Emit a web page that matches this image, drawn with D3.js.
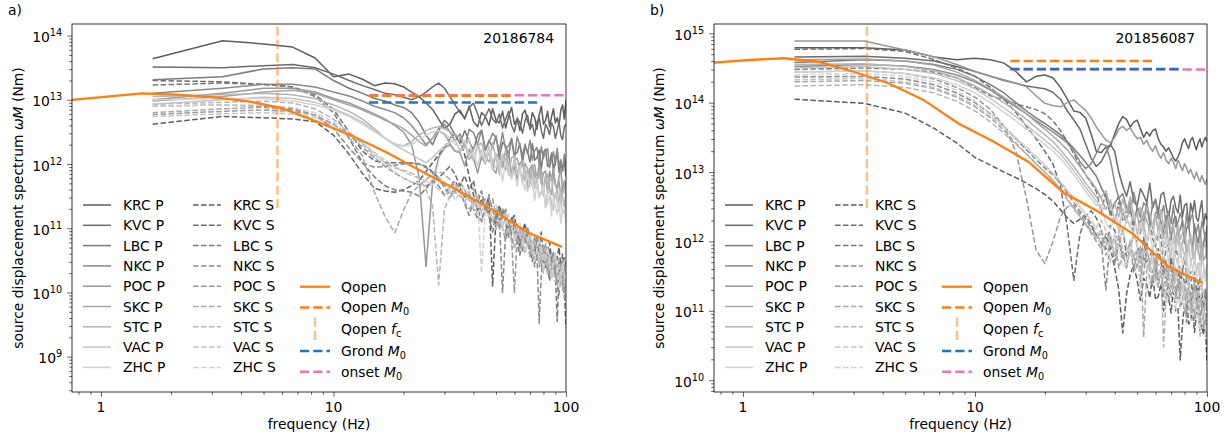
<!DOCTYPE html>
<html>
<head>
<meta charset="utf-8">
<script src="https://cdnjs.cloudflare.com/ajax/libs/d3/7.8.5/d3.min.js"></script>
<style>
  body { margin: 0; background: #fff; }
  svg { font-family: "DejaVu Sans", sans-serif; }
</style>
</head>
<body>
<script>
// spectra are sampled every 5/3 Hz, 60 bins up to 100 Hz; values are log10(M / Nm)
const stations = ["KRC", "KVC", "LBC", "NKC", "POC", "SKC", "STC", "VAC", "ZHC"];
const binCount = 60;
const binWidth = 5 / 3;

// ---- event 20186784 (panel a) ----
const A_KRC_P = [13.64,13.92,13.87,13.82,13.65,13.36,13.40,13.32,13.22,13.26, 13.25,13.20,13.12,13.05,12.95,12.85,12.70,12.55,12.62,12.78, 12.84,12.70,12.90,12.66,12.58,12.80,12.74,12.60,12.86,12.68, 12.64,12.82,12.56,12.74,12.88,12.62,12.70,12.52,12.78,12.84, 12.66,12.58,12.80,12.72,12.54,12.76,12.90,12.62,12.68,12.82, 12.58,12.74,12.86,12.64,12.72,12.60,12.84,12.92,12.70,13.00];
const A_KVC_P = [13.51,13.50,13.53,13.55,13.50,13.40,13.30,13.22,13.16,13.10, 13.08,13.04,13.00,13.05,13.12,13.20,13.26,13.18,13.05,12.92, 12.80,12.72,12.88,12.95,12.78,12.60,12.74,12.86,12.70,12.64, 12.78,12.56,12.70,12.82,12.60,12.50,12.72,12.64,12.48,12.68, 12.76,12.54,12.62,12.44,12.66,12.72,12.52,12.40,12.62,12.56, 12.46,12.64,12.58,12.40,12.52,12.66,12.44,12.38,12.58,12.62];
const A_LBC_P = [13.31,13.36,13.48,13.50,13.48,13.30,13.18,13.10,13.02,12.98, 12.92,12.88,12.80,12.65,12.45,12.30,12.52,12.68,12.60,12.45, 12.32,12.52,12.35,12.22,12.45,12.52,12.21,12.37,12.25,12.44, 12.09,12.34,12.28,12.14,12.40,12.14,12.18,12.32,12.03,12.26, 12.20,12.03,12.32,12.06,12.10,12.22,11.92,12.18,12.23,11.96, 12.00,12.17,11.89,12.08,12.20,11.87,11.99,11.89,12.06,11.80];
const A_NKC_P = [13.10,13.18,13.24,13.24,13.20,13.12,13.06,12.98,12.90,12.85, 12.80,12.72,12.60,12.45,12.30,12.40,12.55,12.62,12.50,12.36, 12.47,12.26,12.54,12.49,12.31,12.53,12.23,12.34,12.48,12.41, 12.20,12.49,12.23,12.29,12.39,12.08,12.42,12.29,12.13,12.31, 12.16,12.37,12.06,12.21,12.26,11.99,12.27,12.09,12.20,12.24, 11.94,12.07,12.19,11.98,12.24,11.97,12.07,11.90,12.15,11.96];
const A_POC_P = [13.00,13.10,13.18,13.18,13.12,13.02,12.95,12.86,12.78,12.70, 12.60,12.50,12.30,11.80,10.40,11.70,12.10,12.25,12.30,12.20, 12.18,11.97,12.23,12.09,11.86,12.11,12.00,12.21,11.93,11.86, 12.11,12.02,11.91,12.19,11.83,11.96,11.76,12.01,12.05,11.84, 11.67,11.93,11.99,11.83,11.75,12.01,11.69,11.86,11.89,11.55, 11.89,11.76,11.93,11.68,11.63,11.80,11.93,11.56,11.74,11.65];
const A_SKC_P = [12.98,13.05,13.12,13.15,13.10,13.00,12.92,12.84,12.76,12.68, 12.62,12.55,12.45,12.35,12.28,12.40,12.52,12.46,12.32,12.20, 12.20,12.33,12.07,12.24,12.34,12.07,12.11,12.24,11.91,12.16, 12.09,11.94,12.22,11.96,11.85,12.06,12.09,11.92,11.76,12.01, 11.93,11.65,11.94,11.99,11.75,11.79,11.92,11.58,11.81,11.84, 11.62,11.53,11.85,11.68,11.58,11.74,11.47,11.54,11.72,11.45];
const A_STC_P = [13.05,13.08,13.10,13.08,13.02,12.92,12.82,12.70,12.55,12.40, 12.30,12.28,12.35,12.45,12.52,12.56,12.58,12.55,12.50,12.45, 12.42,12.31,12.16,12.05,12.28,12.33,12.12,12.03,12.33,12.08, 11.94,12.15,12.08,11.83,12.10,12.13,11.87,11.90,12.04,11.74, 11.92,11.75,12.00,11.68,11.74,11.85,11.75,11.50,11.83,11.61, 11.73,11.79,11.49,11.51,11.61,11.38,11.63,11.50,11.34,11.54];
const A_VAC_P = [12.93,13.00,13.04,13.02,12.96,12.86,12.76,12.65,12.52,12.40, 12.30,12.22,12.15,12.08,12.02,12.10,12.20,12.28,12.34,12.38, 12.20,12.25,12.39,12.06,12.28,12.18,12.02,12.28,12.03,12.14, 11.83,12.13,12.01,11.86,11.78,12.09,11.83,11.91,11.70,11.94, 11.58,11.75,11.81,11.62,11.81,11.50,11.57,11.69,11.32,11.58, 11.60,11.38,11.29,11.55,11.42,11.26,11.51,11.23,11.26,11.38];
const A_ZHC_P = [13.00,13.02,13.02,12.98,12.92,12.84,12.74,12.62,12.50,12.40, 12.32,12.28,12.30,12.38,12.45,12.50,12.52,12.48,12.40,12.30, 12.29,12.37,12.11,12.19,11.97,12.22,12.02,12.24,11.90,11.97, 12.06,11.73,12.05,11.94,11.76,11.90,11.65,11.97,11.71,11.60, 11.85,11.64,11.71,11.43,11.70,11.48,11.55,11.66,11.33,11.39, 11.51,11.19,11.48,11.34,11.21,11.42,11.08,11.27,11.30,11.08];

const A_KRC_S = [12.62,12.74,12.72,12.70,12.66,12.45,12.15,11.85,11.62,11.58, 11.56,11.60,11.66,11.74,11.88,12.02,12.14,12.26,12.40,12.46, 12.40,12.14,11.80,11.52,11.28,11.46,11.30,11.52,10.10,11.18, 11.02,11.30,11.10,10.86,11.14,11.20,10.92,10.70,10.96,11.08, 10.80,10.92,10.64,10.52,10.86,10.70,10.94,10.60,10.38,10.66, 10.78,10.52,10.60,10.30,10.56,10.70,10.40,10.20,10.54,10.40];
const A_KVC_S = [13.30,13.28,13.24,13.20,13.08,12.85,12.50,12.20,12.05,12.02, 12.02,12.02,12.01,12.00,11.96,11.88,11.78,11.88,11.96,11.84, 11.66,11.82,11.60,11.74,11.40,11.58,11.26,11.46,11.30,11.10, 11.36,11.16,11.28,10.96,11.18,10.90,11.06,10.76,10.98,11.04, 10.72,10.94,10.66,10.86,10.54,10.80,10.62,10.44,10.74,10.52, 10.68,10.36,10.58,10.44,10.20,10.52,10.34,10.60,10.26,10.42];
const A_LBC_S = [13.23,13.26,13.24,13.20,13.05,12.80,12.40,12.02,11.80,11.66, 11.60,11.58,11.56,11.50,11.62,11.74,11.66,11.52,11.64,11.74, 11.60,11.38,11.20,11.44,11.32,11.10,11.36,11.18,10.94,11.20, 11.28,11.00,10.82,11.06,10.92,11.12,10.76,10.58,10.90,10.80, 10.98,10.66,10.48,10.78,10.56,10.84,10.40,10.62,10.70,10.36, 10.18,10.50,10.62,10.28,9.55,10.30,10.48,10.14,10.02,9.45];
const A_NKC_S = [12.90,12.92,12.90,12.86,12.76,12.55,12.25,12.02,11.95,11.96, 11.98,12.00,12.02,12.00,11.94,11.86,11.76,11.64,11.48,11.58, 11.64,11.48,11.56,11.30,11.14,11.40,11.46,11.22,11.08,11.32, 11.16,10.00,10.96,11.12,10.86,10.70,10.94,11.00,10.62,10.78, 10.88,10.54,10.70,10.40,10.64,9.52,10.30,10.58,10.66,10.34, 10.48,10.22,10.40,10.54,10.10,9.96,10.32,10.44,10.06,10.16];
const A_POC_S = [12.77,12.82,12.84,12.82,12.76,12.62,12.45,12.26,12.10,11.96, 11.86,11.78,11.72,11.68,11.66,11.72,11.80,11.68,11.52,11.62, 11.72,11.60,11.44,11.30,11.50,11.58,11.24,11.40,11.46,11.16, 11.00,11.20,11.30,11.02,10.84,10.00,10.88,11.00,10.72,10.84, 11.02,10.80,10.58,10.70,10.88,10.66,10.42,10.54,10.76,10.50, 10.26,10.44,10.58,10.36,10.12,10.30,10.46,10.22,9.92,10.20];
const A_SKC_S = [12.80,12.86,12.88,12.84,12.76,12.62,12.42,12.12,11.56,11.18, 10.93,11.28,11.55,11.66,11.76,11.84,11.88,11.84,11.76,11.66, 11.52,11.40,11.56,11.62,11.44,11.26,11.38,11.50,11.28,11.04, 11.18,11.30,11.08,10.88,11.02,11.16,10.94,10.68,10.84,11.00, 10.82,10.56,10.72,10.88,10.68,10.40,10.58,10.74,10.50,10.28, 10.46,10.62,10.40,10.16,10.36,10.52,10.30,10.04,10.26,10.42];
const A_STC_S = [12.93,12.96,12.98,12.95,12.86,12.70,12.50,12.30,12.14,12.02, 11.94,11.90,11.86,11.78,11.60,11.35,10.12,11.30,11.50,11.56, 11.50,11.42,11.30,11.40,11.20,11.08,11.26,11.34,11.12,10.98, 11.10,11.02,10.86,11.00,10.78,10.70,10.92,10.98,10.74,10.60, 10.76,10.84,10.58,10.46,10.66,10.72,10.50,10.30,10.56,10.64, 10.40,10.24,10.46,10.52,10.28,10.06,10.32,10.40,10.16,10.04];
const A_VAC_S = [12.74,12.78,12.80,12.78,12.72,12.60,12.46,12.32,12.18,12.06, 11.96,11.88,11.82,11.78,11.74,11.68,11.60,11.50,11.60,11.68, 11.56,11.40,11.58,11.34,11.50,11.22,11.44,11.28,11.12,11.36, 11.18,11.02,11.26,10.96,11.12,10.84,11.06,10.90,10.70,10.98, 10.78,10.92,10.60,10.80,10.66,10.46,10.74,10.52,10.68,10.40, 10.58,10.30,10.50,10.62,10.28,10.44,10.18,10.40,10.52,10.30];
const A_ZHC_S = [12.90,12.92,12.92,12.88,12.80,12.66,12.50,12.34,12.16,12.00, 11.88,11.78,11.72,11.70,11.72,11.76,11.80,11.72,11.58,11.44, 11.54,11.64,11.48,11.30,11.42,10.30,11.28,11.16,11.30,11.38, 11.20,10.98,11.10,11.22,11.04,10.80,10.94,11.08,10.88,10.64, 10.80,10.96,10.76,10.50,10.68,10.84,10.64,10.36,10.54,10.70, 10.50,10.22,10.42,10.58,10.38,10.08,10.28,10.46,10.26,9.96];

// Qopen fit (half-octave bands), M0, corner frequency and other M0 estimates
const A_QOPEN_F = [0.75, 1.06, 1.5, 2.12, 3, 4.24, 6, 8.49, 12, 16.97, 24, 33.9, 48, 67.9, 96];
const A_QOPEN = [13.00, 13.05, 13.10, 13.08, 13.04, 12.98, 12.87, 12.66, 12.44, 12.18, 11.885, 11.60, 11.29, 10.94, 10.71];
const A_FC = 5.74;
const A_M0 = { qopen: 13.062, grond: 12.958, onset: 13.072 };
const A_M0_F = { qopen: [14.2, 58], grond: [14.2, 76.5], onset: [14.2, 101] };

// ---- event 201856087 (panel b) ----
const B_KRC_P = [14.79,14.79,14.76,14.66,14.62,14.64,14.62,14.57,14.45,14.30, 14.38,14.40,14.36,14.22,14.05,13.88,13.86,13.78,13.55,13.30, 13.28,13.36,13.38,13.55,13.70,13.80,13.76,13.65,13.72,13.75, 13.62,13.50,13.58,13.52,13.60,13.62,13.48,13.40,13.36,13.30, 13.35,13.28,13.20,13.16,13.22,13.30,13.42,13.48,13.40,13.34, 13.46,13.50,13.40,13.32,13.42,13.48,13.36,13.44,13.50,13.44];
const B_KVC_P = [14.66,14.67,14.64,14.60,14.52,14.45,14.38,14.32,14.28,14.24, 14.22,14.20,14.15,14.05,13.88,13.75,13.62,13.40,13.20,13.08, 13.15,13.28,13.40,13.30,13.00,12.80,12.65,12.86,12.58,12.51, 12.76,12.67,12.56,12.84,12.48,12.61,12.41,12.67,12.71,12.50, 12.33,12.59,12.65,12.49,12.41,12.67,12.35,12.52,12.55,12.21, 12.55,12.42,12.59,12.34,12.29,12.46,12.59,12.22,12.40,12.31];
const B_LBC_P = [14.58,14.62,14.60,14.55,14.48,14.38,14.26,14.14,14.00,13.88, 13.78,13.70,13.62,13.54,13.44,13.34,13.24,13.14,13.04,12.94, 12.78,12.64,12.38,12.55,12.65,12.39,12.43,12.57,12.23,12.49, 12.42,12.28,12.56,12.30,12.19,12.41,12.44,12.28,12.11,12.37, 12.29,12.02,12.31,12.36,12.12,12.17,12.30,11.97,12.19,12.23, 12.01,11.93,12.25,12.08,11.98,12.15,11.88,11.96,12.13,11.87];
const B_NKC_P = [14.52,14.55,14.53,14.48,14.40,14.30,14.18,14.05,13.94,13.84, 13.74,13.66,13.58,13.50,13.42,13.30,13.15,13.05,13.12,13.27, 13.41,13.38,13.17,12.85,12.62,12.69,12.49,12.40,12.71,12.48, 12.35,12.56,12.50,12.26,12.55,12.59,12.33,12.37,12.52,12.23, 12.43,12.26,12.52,12.21,12.28,12.41,12.31,12.07,12.41,12.20, 12.33,12.40,12.11,12.14,12.25,12.03,12.29,12.17,12.02,12.23];
const B_POC_P = [14.89,14.89,14.76,14.66,14.55,14.45,14.38,14.33,14.28,14.23, 14.10,13.99,13.96,13.94,14.00,14.04,13.96,13.89,13.78,13.65, 13.55,13.46,13.42,13.50,13.62,13.66,13.60,13.64,13.55,13.48, 13.50,13.40,13.46,13.36,13.30,13.38,13.26,13.20,13.28,13.17, 13.12,13.20,13.14,13.05,13.17,13.10,13.02,13.12,13.06,12.98, 13.04,12.96,12.90,13.00,12.92,12.86,12.95,12.88,12.82,12.90];
const B_SKC_P = [14.62,14.63,14.60,14.54,14.44,14.32,14.20,14.08,13.96,13.84, 13.72,13.62,13.52,13.42,13.32,13.20,13.08,12.96,12.86,12.76, 12.62,12.46,12.60,12.28,12.51,12.41,12.27,12.54,12.30,12.41, 12.11,12.42,12.30,12.16,12.09,12.40,12.16,12.25,12.05,12.29, 11.94,12.12,12.18,12.00,12.20,11.89,11.98,12.11,11.75,12.01, 12.04,11.83,11.74,12.01,11.89,11.73,12.00,11.73,11.77,11.89];
const B_STC_P = [14.55,14.56,14.52,14.46,14.36,14.24,14.12,14.00,13.88,13.76, 13.64,13.54,13.44,13.32,13.20,13.08,12.96,12.84,12.74,12.64, 12.64,12.73,12.48,12.56,12.35,12.61,12.42,12.65,12.31,12.39, 12.49,12.17,12.50,12.39,12.22,12.37,12.13,12.46,12.20,12.10, 12.36,12.16,12.24,11.96,12.24,12.03,12.11,12.23,11.90,11.97, 12.10,11.79,12.09,11.95,11.83,12.05,11.72,11.92,11.95,11.74];
const B_VAC_P = [14.50,14.52,14.48,14.42,14.32,14.20,14.06,13.92,13.80,13.68, 13.56,13.46,13.36,13.26,13.14,13.02,12.90,12.78,12.68,12.58, 12.46,12.49,12.51,12.34,12.16,12.48,12.33,12.21,12.43,12.12, 12.27,12.29,12.00,12.18,12.26,12.01,12.02,12.24,11.90,12.08, 12.00,11.78,12.06,11.87,12.05,11.77,11.93,11.80,11.65,11.98, 11.69,11.78,11.81,11.56,11.69,11.47,11.76,11.66,11.49,11.67];
const B_ZHC_P = [14.44,14.46,14.42,14.36,14.26,14.14,14.00,13.86,13.74,13.62, 13.50,13.40,13.30,13.20,13.08,12.96,12.84,12.72,12.62,12.52, 12.53,12.26,12.17,12.37,12.29,12.08,12.33,12.25,12.07,11.95, 12.27,12.11,11.99,12.16,11.89,12.05,12.15,11.84,11.92,12.00, 11.69,12.00,11.89,11.76,11.65,11.97,11.66,11.75,11.83,11.51, 11.73,11.60,11.75,11.48,11.54,11.71,11.38,11.58,11.42,11.55];

const B_KRC_S = [14.05,13.99,13.85,13.63,13.42,13.21,13.10,13.00,12.92,12.84, 12.76,12.68,12.58,12.46,12.34,12.26,12.32,12.38,12.24,12.10, 11.96,12.08,11.90,11.62,11.30,10.68,11.24,11.52,11.66,11.44, 11.15,11.47,11.38,11.19,11.51,11.16,11.21,11.39,11.00,11.28, 11.20,10.97,11.33,11.00,11.03,10.29,10.79,11.11,11.17,10.81, 10.85,11.07,10.69,10.93,11.07,10.64,10.79,10.65,10.86,10.24];
const B_KVC_S = [14.77,14.78,14.74,14.62,14.50,14.38,14.22,14.05,13.86,13.66, 13.48,13.30,13.12,12.80,12.20,11.44,12.10,12.36,12.44,12.34, 12.18,11.89,12.23,12.16,11.92,12.19,11.78,11.91,12.09,11.98, 11.70,12.06,11.71,11.78,11.89,11.47,11.90,11.72,11.51,11.72, 11.51,11.77,11.35,11.55,11.60,11.23,11.58,11.32,11.46,11.51, 11.10,11.25,11.39,11.11,11.43,11.08,11.19,10.95,11.27,11.01];
const B_LBC_S = [14.48,14.50,14.48,14.44,14.36,14.22,14.10,14.04,13.98,13.94, 13.90,13.84,13.74,13.60,13.44,13.26,13.10,12.96,12.84,12.72, 12.42,12.71,12.43,12.27,12.57,12.29,12.36,12.53,12.05,12.11, 12.33,12.23,11.89,12.26,12.04,11.92,12.17,12.06,11.61,11.92, 11.96,11.57,11.73,11.89,11.79,11.45,11.53,11.83,11.40,11.54, 11.56,11.17,11.56,11.32,11.21,11.50,11.30,11.04,11.31,11.08];
const B_NKC_S = [14.37,14.38,14.34,14.26,14.14,14.00,13.84,13.66,13.48,13.32, 13.18,13.06,12.96,12.84,12.70,12.56,12.44,12.32,12.20,12.10, 12.00,11.30,12.08,11.66,11.96,11.82,11.62,11.97,11.65,11.79, 11.40,11.80,11.64,11.45,11.36,11.76,11.43,11.54,11.28,11.59, 11.13,11.36,11.43,11.19,11.45,11.04,11.14,11.31,10.83,11.17, 11.20,10.93,10.80,11.15,10.99,10.78,11.11,10.76,10.81,10.96];
const B_POC_S = [14.44,14.46,14.42,14.34,14.22,14.08,13.90,13.66,13.30,12.62, 11.88,11.68,12.00,12.35,12.50,12.52,12.40,12.26,12.12,12.00, 11.90,12.11,12.03,11.71,12.09,11.75,11.85,11.98,11.54,11.89, 11.66,11.52,11.90,11.69,11.53,11.76,11.34,11.64,11.49,11.70, 11.30,11.38,11.67,11.18,11.44,11.20,11.37,11.45,10.98,11.34, 11.15,10.99,11.39,11.03,11.22,10.84,11.06,10.90,11.18,11.00];
const B_SKC_S = [14.30,14.32,14.28,14.20,14.08,13.94,13.78,13.60,13.42,13.26, 13.12,13.00,12.88,12.76,12.62,12.48,12.36,12.26,12.16,12.06, 12.11,11.80,11.97,12.05,11.61,11.84,11.61,11.88,11.78,11.61, 11.93,10.62,11.57,11.69,11.42,11.73,11.43,11.63,11.20,11.43, 11.48,11.18,11.56,11.23,11.15,11.42,11.26,10.97,11.29,11.21, 10.95,11.29,10.95,11.06,11.18,10.71,10.89,11.05,10.97,10.66];
const B_STC_S = [14.24,14.26,14.22,14.14,14.02,13.88,13.72,13.56,13.40,13.26, 13.12,13.00,12.88,12.74,12.60,12.46,12.36,12.24,12.14,12.04, 12.18,11.94,12.09,11.79,12.15,11.87,11.74,12.03,11.78,11.89, 11.55,11.90,11.74,11.57,11.91,11.43,11.52,11.64,10.48,11.26, 11.61,11.43,11.27,11.63,11.43,11.17,11.46,11.19,11.28,11.44, 10.96,11.05,11.23,11.29,10.89,11.11,11.16,10.84,10.90,11.19];
const B_VAC_S = [14.33,14.35,14.30,14.22,14.10,13.96,13.80,13.64,13.48,13.34, 13.22,13.10,12.98,12.86,12.74,12.62,12.50,12.40,12.30,12.20, 12.31,12.16,11.97,11.84,12.14,12.20,11.93,11.81,12.21,11.89, 11.72,11.99,11.90,11.57,11.94,11.98,11.65,11.68,11.87,11.47, 11.73,11.50,11.83,11.41,11.50,11.65,11.53,11.20,11.63,11.34, 11.50,11.59,11.21,11.23,11.37,11.06,11.41,11.23,11.03,11.29];
const B_ZHC_S = [14.40,14.42,14.38,14.30,14.18,14.02,13.84,13.66,13.50,13.36, 13.22,13.10,12.98,12.86,12.74,12.62,12.50,12.38,12.28,12.18, 11.88,11.96,11.68,12.12,11.91,11.64,11.67,11.95,11.68,11.81, 11.32,11.72,11.64,11.38,11.75,11.37,11.43,11.60,11.48,11.09, 11.27,11.50,11.41,11.03,11.24,11.03,11.46,11.05,11.15,11.22, 10.85,10.90,11.22,10.91,11.01,10.64,10.90,11.04,10.65,10.88];

const B_QOPEN_F = A_QOPEN_F;
const B_QOPEN = [14.576, 14.615, 14.64, 14.59, 14.446, 14.28, 14.04, 13.70, 13.44, 13.15, 12.71, 12.43, 12.11, 11.64, 11.40];
const B_FC = 3.42;
const B_M0 = { qopen: 14.60, grond: 14.485, onset: 14.48 };
const B_M0_F = { qopen: [14.2, 58], grond: [14.2, 78], onset: [14.2, 101] };

// ---------------------------------------------------------------
const W = 1231, H = 441;
const FS = 13.9;
const orange = "#ff7f0e", blue = "#1f77b4", pink = "#e377c2";
const grays = stations.map((s, i) => d3.interpolateRgb("#5e5e5e", "#d2d2d2")(i / 8));
const freqs = d3.range(1, binCount + 1).map((k) => k * binWidth);

const panels = [
  {
    id: "a", label: "a)", labelX: 8, event: "20186784",
    left: 72, right: 566, top: 24, bottom: 392,
    yDomain: [10 ** 8.45, 10 ** 14.18], yMajors: [1e9, 1e10, 1e11, 1e12, 1e13, 1e14], yLabelX: 23,
    spectra: [[A_KRC_P, A_KRC_S], [A_KVC_P, A_KVC_S], [A_LBC_P, A_LBC_S], [A_NKC_P, A_NKC_S], [A_POC_P, A_POC_S],
              [A_SKC_P, A_SKC_S], [A_STC_P, A_STC_S], [A_VAC_P, A_VAC_S], [A_ZHC_P, A_ZHC_S]],
    qf: A_QOPEN_F, qv: A_QOPEN, fc: A_FC, m0: A_M0, m0f: A_M0_F,
  },
  {
    id: "b", label: "b)", labelX: 650, event: "201856087",
    left: 714, right: 1207, top: 24, bottom: 392,
    yDomain: [10 ** 9.83, 10 ** 15.134], yMajors: [1e10, 1e11, 1e12, 1e13, 1e14, 1e15], yLabelX: 664,
    spectra: [[B_KRC_P, B_KRC_S], [B_KVC_P, B_KVC_S], [B_LBC_P, B_LBC_S], [B_NKC_P, B_NKC_S], [B_POC_P, B_POC_S],
              [B_SKC_P, B_SKC_S], [B_STC_P, B_STC_S], [B_VAC_P, B_VAC_S], [B_ZHC_P, B_ZHC_S]],
    qf: B_QOPEN_F, qv: B_QOPEN, fc: B_FC, m0: B_M0, m0f: B_M0_F,
  },
];

const svg = d3.select("body").append("svg").attr("width", W).attr("height", H)
  .attr("font-size", FS);

function drawPanel(p) {
  const x = d3.scaleLog().domain([0.75, 100]).range([p.left, p.right]);
  const y = d3.scaleLog().domain(p.yDomain).range([p.bottom, p.top]);
  const g = svg.append("g");

  g.append("clipPath").attr("id", "clip-" + p.id)
    .append("rect")
    .attr("x", p.left).attr("y", p.top)
    .attr("width", p.right - p.left).attr("height", p.bottom - p.top);
  const plot = g.append("g").attr("clip-path", `url(#clip-${p.id})`);
  const line = d3.line().x((d) => x(d[0])).y((d) => y(d[1]));

  // station spectra
  p.spectra.forEach((pair, i) => {
    pair.forEach((vals, j) => {
      plot.append("path")
        .datum(vals.map((v, k) => [freqs[k], 10 ** v]))
        .attr("d", line)
        .attr("fill", "none")
        .attr("stroke", grays[i])
        .attr("stroke-width", 1.5)
        .attr("stroke-linejoin", "round")
        .attr("stroke-dasharray", j ? "5.55,2.4" : null);
    });
  });

  // Qopen source spectrum
  plot.append("path")
    .datum(p.qf.map((f, i) => [f, 10 ** p.qv[i]]))
    .attr("d", line)
    .attr("fill", "none")
    .attr("stroke", orange)
    .attr("stroke-width", 2.3);

  // corner frequency, upper half of the axes
  plot.append("line")
    .attr("x1", x(p.fc)).attr("x2", x(p.fc))
    .attr("y1", (p.top + p.bottom) / 2).attr("y2", p.top)
    .attr("stroke", orange).attr("stroke-opacity", 0.5)
    .attr("stroke-width", 2.5).attr("stroke-dasharray", "9.25,4");

  // moment estimates
  [["onset", pink], ["qopen", orange], ["grond", blue]].forEach(([key, color]) => {
    plot.append("line")
      .attr("x1", x(p.m0f[key][0])).attr("x2", x(p.m0f[key][1]))
      .attr("y1", y(10 ** p.m0[key])).attr("y2", y(10 ** p.m0[key]))
      .attr("stroke", color).attr("stroke-width", 2.5)
      .attr("stroke-dasharray", "9.25,4");
  });

  // axes
  const xMinor = [0.8, 0.9, 2, 3, 4, 5, 6, 7, 8, 9, 20, 30, 40, 50, 60, 70, 80, 90];
  const gx = g.append("g").attr("transform", `translate(0,${p.bottom})`);
  gx.call(d3.axisBottom(x).tickValues([1, 10, 100]).tickSize(4.9).tickFormat(""));
  gx.append("g").call(d3.axisBottom(x).tickValues(xMinor).tickSize(2.8).tickFormat(""));

  const lo = Math.floor(Math.log10(p.yDomain[0])), hi = Math.ceil(Math.log10(p.yDomain[1]));
  const yMinor = [];
  for (let e = lo; e <= hi; e++) {
    for (let m = 2; m <= 9; m++) {
      const v = m * 10 ** e;
      if (v > p.yDomain[0] && v < p.yDomain[1]) yMinor.push(v);
    }
  }
  const gy = g.append("g").attr("transform", `translate(${p.left},0)`);
  gy.call(d3.axisLeft(y).tickValues(p.yMajors).tickSize(4.9).tickFormat(""));
  gy.append("g").call(d3.axisLeft(y).tickValues(yMinor).tickSize(2.8).tickFormat(""));

  g.selectAll(".domain").remove();
  g.selectAll(".tick line").attr("stroke", "#000").attr("stroke-width", 0.8);
  gx.selectAll("g g .tick line").attr("stroke-width", 0.6);
  gy.selectAll("g g .tick line").attr("stroke-width", 0.6);

  g.append("rect")
    .attr("x", p.left).attr("y", p.top)
    .attr("width", p.right - p.left).attr("height", p.bottom - p.top)
    .attr("fill", "none").attr("stroke", "#000").attr("stroke-width", 0.8);

  [1, 10, 100].forEach((v) => {
    g.append("text").attr("x", x(v)).attr("y", p.bottom + 20)
      .attr("text-anchor", "middle").text(v);
  });
  p.yMajors.forEach((v) => {
    const t = g.append("text").attr("x", p.left - 9.8).attr("y", y(v) + 6.5)
      .attr("text-anchor", "end");
    t.append("tspan").text("10");
    t.append("tspan").attr("dy", -5.8).attr("font-size", FS * 0.7).text(Math.round(Math.log10(v)));
  });

  g.append("text")
    .attr("x", (p.left + p.right) / 2).attr("y", 429)
    .attr("text-anchor", "middle").text("frequency (Hz)");

  const yl = g.append("text")
    .attr("transform", `translate(${p.yLabelX},${(p.top + p.bottom) / 2}) rotate(-90)`)
    .attr("text-anchor", "middle");
  yl.append("tspan").text("source displacement spectrum ");
  yl.append("tspan").attr("font-style", "italic").text("ωM");
  yl.append("tspan").text(" (Nm)");

  g.append("text").attr("x", p.labelX).attr("y", 15).text(p.label);
  g.append("text").attr("x", p.right - 12).attr("y", 43)
    .attr("text-anchor", "end").text(p.event);

  // station legend (two columns: P solid, S dashed)
  const rowH = 20.3, row0 = 205;
  stations.forEach((s, i) => {
    const ry = row0 + i * rowH;
    [["P", 11, null], ["S", 121, "5.55,2.4"]].forEach(([phase, off, dash]) => {
      g.append("line")
        .attr("x1", p.left + off).attr("x2", p.left + off + 28)
        .attr("y1", ry).attr("y2", ry)
        .attr("stroke", grays[i]).attr("stroke-width", 1.5)
        .attr("stroke-dasharray", dash);
      g.append("text").attr("x", p.left + off + 40).attr("y", ry + 5)
        .text(`${s} ${phase}`);
    });
  });

  // Qopen legend
  const hx = p.left + 228, tx = p.left + 269;
  const qRows = [286.7, 307.4, 328.6, 351, 371.8];
  g.append("line").attr("x1", hx).attr("x2", hx + 30).attr("y1", qRows[0]).attr("y2", qRows[0])
    .attr("stroke", orange).attr("stroke-width", 2.3);
  [[1, orange], [3, blue], [4, pink]].forEach(([r, color]) => {
    g.append("line").attr("x1", hx).attr("x2", hx + 30).attr("y1", qRows[r]).attr("y2", qRows[r])
      .attr("stroke", color).attr("stroke-width", 2.5).attr("stroke-dasharray", "9.25,4");
  });
  g.append("line").attr("x1", hx + 15).attr("x2", hx + 15)
    .attr("y1", qRows[2] + 11.5).attr("y2", qRows[2] - 11.5)
    .attr("stroke", orange).attr("stroke-opacity", 0.5)
    .attr("stroke-width", 2.5).attr("stroke-dasharray", "9.25,4");

  const legText = (r, base, sym, sub) => {
    const t = g.append("text").attr("x", tx).attr("y", qRows[r] + 5);
    t.append("tspan").text(base);
    if (sym) {
      t.append("tspan").attr("font-style", "italic").text(sym);
      t.append("tspan").attr("dy", 3).attr("font-size", FS * 0.7).text(sub);
    }
  };
  legText(0, "Qopen");
  legText(1, "Qopen ", "M", "0");
  legText(2, "Qopen ", "f", "c");
  legText(3, "Grond ", "M", "0");
  legText(4, "onset ", "M", "0");
}

panels.forEach(drawPanel);
</script>
</body>
</html>
